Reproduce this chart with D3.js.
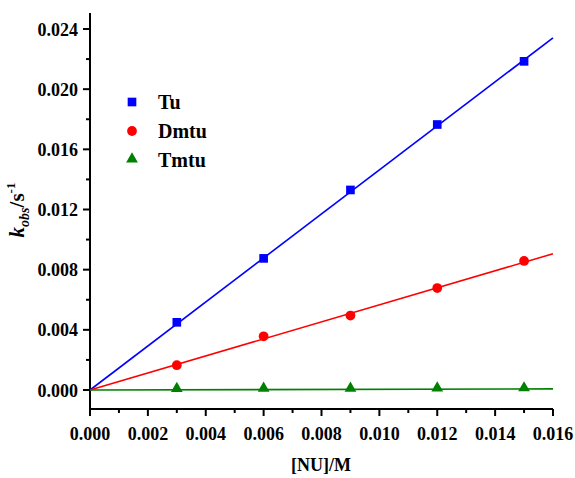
<!DOCTYPE html>
<html>
<head>
<meta charset="utf-8">
<script src="https://cdn.jsdelivr.net/npm/d3@7"></script>
<style>
  html, body { margin: 0; padding: 0; background: #fff; }
  svg text { font-family: "Liberation Serif", "Times New Roman", serif; font-weight: bold; fill: #000; }
</style>
</head>
<body>
<svg id="chart" width="575" height="478"></svg>
<script>
// Nucleophile concentration [NU] (M)
const concentrations = [0.003, 0.006, 0.009, 0.012, 0.015];

// Observed rate constants k_obs (s^-1) for each nucleophile
const tuValues   = [0.0045, 0.00875, 0.0133, 0.01765, 0.02185];
const dmtuValues = [0.00165, 0.00357, 0.00495, 0.00678, 0.00858];
const tmtuValues = [0.00003, 0.00004, 0.00005, 0.00006, 0.00007];

// Fitted slopes of the straight lines through the origin (s^-1 M^-1)
const fitSlopes = [1.463, 0.566, 0.0045];

const seriesNames  = ["Tu", "Dmtu", "Tmtu"];
const seriesColors = ["#0000ff", "#ff0000", "#008000"];
const seriesShapes = [d3.symbolSquare, d3.symbolCircle, d3.symbolTriangle];

const xTicks = [0, 0.002, 0.004, 0.006, 0.008, 0.010, 0.012, 0.014, 0.016];
const yTicks = [0, 0.004, 0.008, 0.012, 0.016, 0.020, 0.024];

const svg = d3.select("#chart");

const x = d3.scaleLinear().domain([0, 0.016]).range([90, 553]);
const y = d3.scaleLinear().domain([0, 0.024]).range([390, 29]);
const yBottom = 409, yTop = 13;

const fmt = d3.format(".3f");

// X axis
const xAxis = svg.append("g").attr("transform", `translate(0,${yBottom})`);
xAxis.append("line").attr("x1", 90).attr("x2", 553).attr("stroke", "#000").attr("stroke-width", 2);
d3.range(0, 0.0161, 0.001).forEach((v, i) => {
  const major = i % 2 === 0;
  xAxis.append("line")
    .attr("x1", x(v)).attr("x2", x(v))
    .attr("y1", 0).attr("y2", major ? 7 : 4)
    .attr("stroke", "#000").attr("stroke-width", 2);
});
xAxis.selectAll("text.tick").data(xTicks).join("text")
  .attr("class", "tick")
  .attr("x", d => x(d)).attr("y", 31)
  .attr("text-anchor", "middle")
  .attr("font-size", 18)
  .text(d => fmt(d));

// Y axis
const yAxis = svg.append("g");
yAxis.append("line").attr("x1", 90).attr("x2", 90).attr("y1", yTop).attr("y2", yBottom)
  .attr("stroke", "#000").attr("stroke-width", 2);
d3.range(0, 0.0241, 0.002).forEach((v, i) => {
  const major = i % 2 === 0;
  yAxis.append("line")
    .attr("x1", 90).attr("x2", major ? 83 : 86)
    .attr("y1", y(v)).attr("y2", y(v))
    .attr("stroke", "#000").attr("stroke-width", 2);
});
yAxis.selectAll("text.tick").data(yTicks).join("text")
  .attr("class", "tick")
  .attr("x", 78).attr("y", d => y(d) + 6.5)
  .attr("text-anchor", "end")
  .attr("font-size", 18)
  .text(d => fmt(d));

// Axis titles
svg.append("text")
  .attr("x", 321).attr("y", 471)
  .attr("text-anchor", "middle")
  .attr("font-size", 18)
  .text("[NU]/M");

const yTitle = svg.append("text")
  .attr("transform", "translate(24,210) rotate(-90)")
  .attr("text-anchor", "middle")
  .attr("font-size", 21);
yTitle.append("tspan").attr("font-style", "italic").text("k");
yTitle.append("tspan").attr("font-style", "italic").attr("font-size", 14).attr("dy", 5).text("obs");
yTitle.append("tspan").attr("dy", -5).text("/s");
yTitle.append("tspan").attr("font-size", 13).attr("dy", -9).text("-1");

// Data series
const seriesValues = [tuValues, dmtuValues, tmtuValues];
const line = d3.line().x(d => x(d[0])).y(d => y(d[1]));

seriesValues.forEach((vals, s) => {
  const fit = [[0, 0], [0.016, fitSlopes[s] * 0.016]];
  svg.append("path")
    .attr("d", line(fit))
    .attr("fill", "none")
    .attr("stroke", seriesColors[s])
    .attr("stroke-width", 1.6);
});

seriesValues.forEach((vals, s) => {
  const sym = d3.symbol().type(seriesShapes[s]).size(s === 2 ? 60 : 75);
  svg.selectAll(`path.pt${s}`).data(vals).join("path")
    .attr("class", `pt${s}`)
    .attr("transform", (d, i) => `translate(${x(concentrations[i])},${y(d) - (s === 2 ? 1 : 0)})`)
    .attr("d", sym)
    .attr("fill", seriesColors[s]);
});

// Legend
const legend = svg.append("g");
seriesNames.forEach((name, s) => {
  const cy = 102 + s * 29;
  legend.append("path")
    .attr("transform", `translate(132,${cy - (s === 2 ? 1 : 0)})`)
    .attr("d", d3.symbol().type(seriesShapes[s]).size(s === 2 ? 60 : 75))
    .attr("fill", seriesColors[s]);
  legend.append("text")
    .attr("x", 158).attr("y", cy + 7)
    .attr("font-size", 20)
    .text(name);
});
</script>
</body>
</html>
